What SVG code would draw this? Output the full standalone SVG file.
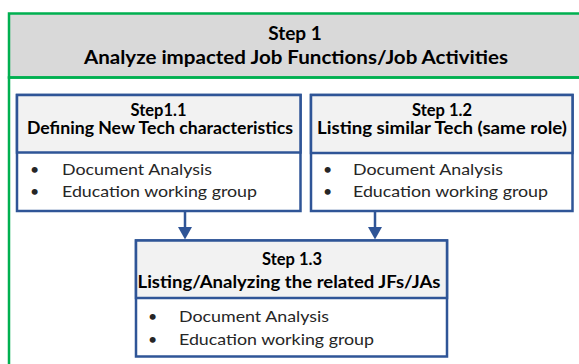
<svg xmlns="http://www.w3.org/2000/svg" width="579" height="364" viewBox="0 0 579 364">
<style>
.box{fill:#ffffff;stroke:#2f5597;stroke-width:2.5}
.hdr{fill:#f2f2f2;stroke:#2f5597;stroke-width:2.5}
.t{font-family:Lato,"Liberation Sans",sans-serif;font-weight:bold;fill:#000;text-anchor:middle}
.b{font-family:Lato,"Liberation Sans",sans-serif;font-size:16px;fill:#262626}
.conn{stroke:#2f5597;stroke-width:2.5;fill:none}
.head{fill:#2f5597}
</style>
<rect width="579" height="364" fill="#ffffff"/>
<g id="step1">
<rect x="9" y="13.5" width="580" height="64" fill="#d9d9d9" stroke="#00b050" stroke-width="2.5"/>
<rect x="9" y="77.5" width="580" height="300" fill="none" stroke="#00b050" stroke-width="2.5"/>
<text class="t" x="295" y="40" font-size="19">Step 1</text>
<text class="t" x="296" y="64" font-size="19" textLength="424" lengthAdjust="spacingAndGlyphs">Analyze impacted Job Functions/Job Activities</text>
</g>
<g id="step1_1">
<rect class="box" x="17" y="95" width="283.5" height="116"/>
<rect class="hdr" x="17" y="95" width="283.5" height="57.5"/>
<text class="t" x="158.5" y="115.5" font-size="16.5">Step1.1</text>
<text class="t" x="160" y="134" font-size="16.5" textLength="266" lengthAdjust="spacingAndGlyphs">Defining New Tech characteristics</text>
<text class="b" x="30" y="175">•</text>
<text class="b" x="62" y="175" textLength="150" lengthAdjust="spacingAndGlyphs">Document Analysis</text>
<text class="b" x="30" y="197">•</text>
<text class="b" x="62" y="197" textLength="195" lengthAdjust="spacingAndGlyphs">Education working group</text>
</g>
<g id="step1_2">
<rect class="box" x="311" y="95" width="261.5" height="116"/>
<rect class="hdr" x="311" y="95" width="261.5" height="58"/>
<text class="t" x="442" y="115.5" font-size="16.5">Step 1.2</text>
<text class="t" x="442" y="134" font-size="16.5" textLength="250" lengthAdjust="spacingAndGlyphs">Listing similar Tech (same role)</text>
<text class="b" x="323" y="175">•</text>
<text class="b" x="353" y="175" textLength="150" lengthAdjust="spacingAndGlyphs">Document Analysis</text>
<text class="b" x="323" y="197">•</text>
<text class="b" x="353" y="197" textLength="195" lengthAdjust="spacingAndGlyphs">Education working group</text>
</g>
<g id="step1_3">
<rect class="box" x="136" y="240.5" width="311" height="116"/>
<rect class="hdr" x="136" y="240.5" width="311" height="57.5"/>
<text class="t" x="292" y="265" font-size="16.5">Step 1.3</text>
<text class="t" x="289" y="288" font-size="16.5" textLength="303" lengthAdjust="spacingAndGlyphs">Listing/Analyzing  the related JFs/JAs</text>
<text class="b" x="148" y="322">•</text>
<text class="b" x="179" y="322" textLength="150" lengthAdjust="spacingAndGlyphs">Document Analysis</text>
<text class="b" x="148" y="345">•</text>
<text class="b" x="179" y="345" textLength="195" lengthAdjust="spacingAndGlyphs">Education working group</text>
</g>
<g id="connectors">
<line class="conn" x1="185" y1="212" x2="185" y2="229"/>
<polygon class="head" points="178,227 192,227 185,239.5"/>
<line class="conn" x1="375" y1="212" x2="375" y2="229"/>
<polygon class="head" points="368,227 382,227 375,239.5"/>
</g>
</svg>
